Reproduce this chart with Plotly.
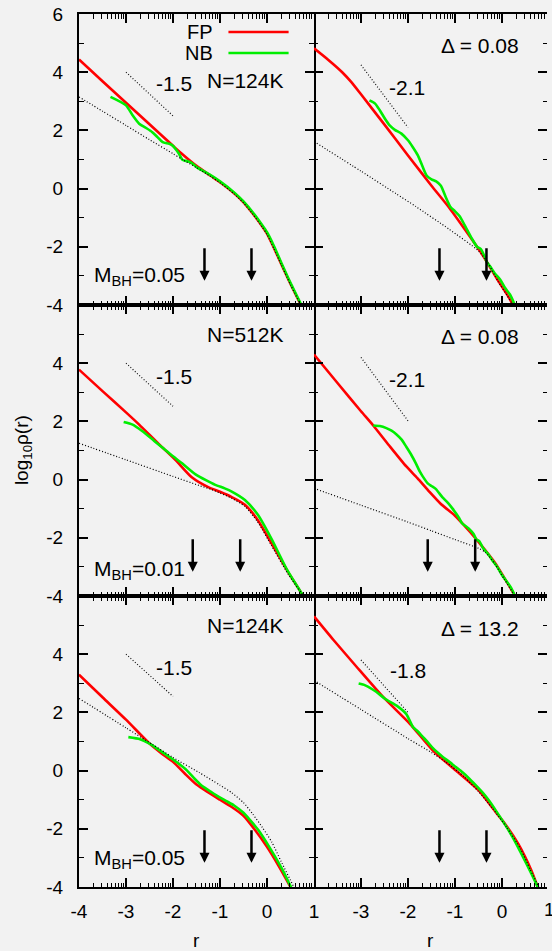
import numpy as np
import plotly.graph_objects as go

# ---------------- data ----------------
# Top-left panel: N=124K, M_BH=0.05
TL_FP_X = [-4, -3.5, -3, -2.5, -2, -1.8, -1.5, -1.2, -1, -0.7, -0.5, -0.3, -0.1, 0, 0.15, 0.3, 0.5, 0.72, 0.8]
TL_FP_Y = [4.44, 3.69, 2.95, 2.21, 1.47, 1.18, 0.78, 0.44, 0.22, -0.16, -0.47, -0.86, -1.3, -1.55, -2.05, -2.58, -3.28, -4.0, -4.3]
TL_NB_X = [-3.33, -3.0, -2.86, -2.72, -2.58, -2.44, -2.33, -2.22, -2.08, -2.01, -1.87, -1.8, -1.63, -1.49, -1.2, -1, -0.7, -0.5, -0.3, -0.1, 0, 0.15, 0.3, 0.5, 0.73, 0.8]
TL_NB_Y = [3.15, 2.86, 2.52, 2.23, 2.09, 1.94, 1.77, 1.6, 1.54, 1.48, 1.19, 0.99, 0.91, 0.73, 0.46, 0.25, -0.13, -0.44, -0.82, -1.26, -1.5, -1.98, -2.53, -3.24, -4.0, -4.3]
TL_IN_X = [-4, -3.5, -3, -2.5, -2, -1.8, -1.5, -1.2, -1, -0.7, -0.5, -0.3, -0.1, 0, 0.15, 0.3, 0.5, 0.72, 0.8]
TL_IN_Y = [3.15, 2.66, 2.17, 1.68, 1.2, 1.0, 0.72, 0.42, 0.2, -0.18, -0.49, -0.88, -1.32, -1.57, -2.07, -2.6, -3.3, -4.0, -4.3]
TL_SL_X = [-3, -2]
TL_SL_Y = [4.0, 2.5]

# Top-right panel: Delta = 0.08
TR_FP_X = [-4, -3.7, -3.4, -3.2, -3, -2.5, -2, -1.5, -1.13, -0.8, -0.43, -0.08, 0.1, 0.24, 0.35]
TR_FP_Y = [4.82, 4.43, 4.0, 3.65, 3.24, 2.2, 1.14, 0.10, -0.64, -1.38, -2.24, -3.17, -3.62, -4.0, -4.3]
TR_NB_X = [-2.82, -2.7, -2.6, -2.49, -2.39, -2.28, -2.14, -2.0, -1.9, -1.79, -1.69, -1.6, -1.5, -1.4, -1.3, -1.2, -1.1, -1.0, -0.9, -0.78, -0.64, -0.53, -0.45, -0.38, -0.33, -0.25, -0.15, -0.04, 0.06, 0.17, 0.27, 0.33]
TR_NB_Y = [3.03, 2.92, 2.69, 2.40, 2.17, 2.02, 1.89, 1.66, 1.43, 1.14, 0.76, 0.44, 0.32, 0.25, 0.10, -0.28, -0.62, -0.78, -0.95, -1.30, -1.72, -2.00, -2.08, -2.30, -2.50, -2.68, -2.92, -3.12, -3.40, -3.64, -4.0, -4.3]
TR_IN_X = [-4, -3, -2.25, -1.83, -1.13, -0.5, -0.3, -0.08, 0.1, 0.24, 0.35]
TR_IN_Y = [1.62, 0.6, -0.18, -0.62, -1.39, -2.14, -2.55, -3.2, -3.65, -4.02, -4.3]
TR_SL_X = [-3, -2]
TR_SL_Y = [4.25, 2.1]

# Middle-left panel: N=512K, M_BH=0.01
ML_FP_X = [-4, -3.5, -3, -2.72, -2.3, -1.95, -1.6, -1.25, -1.0, -0.75, -0.47, -0.2, 0.1, 0.45, 0.78, 0.85]
ML_FP_Y = [3.78, 3.04, 2.31, 1.89, 1.22, 0.68, 0.08, -0.26, -0.42, -0.6, -0.86, -1.38, -2.2, -3.18, -4.03, -4.3]
ML_NB_X = [-3.05, -2.86, -2.65, -2.4, -2.2, -2.0, -1.8, -1.52, -1.3, -1.1, -0.9, -0.75, -0.47, -0.19, 0.09, 0.44, 0.78, 0.85]
ML_NB_Y = [1.98, 1.89, 1.66, 1.33, 1.07, 0.8, 0.55, 0.18, -0.02, -0.18, -0.3, -0.41, -0.70, -1.22, -2.02, -3.14, -4.03, -4.3]
ML_IN_X = [-4, -3, -2, -1.45, -1.2, -1.0, -0.75, -0.47, -0.2, 0.1, 0.45, 0.8, 0.9]
ML_IN_Y = [1.25, 0.68, 0.11, -0.2, -0.33, -0.46, -0.64, -0.92, -1.45, -2.28, -3.25, -4.05, -4.3]
ML_SL_X = [-3, -2]
ML_SL_Y = [4.0, 2.52]

# Middle-right panel: Delta = 0.08
MR_FP_X = [-4, -3.5, -3, -2.74, -2.4, -2.04, -1.8, -1.55, -1.3, -1.0, -0.8, -0.57, -0.35, -0.15, 0.05, 0.27, 0.35]
MR_FP_Y = [4.3, 3.32, 2.35, 1.86, 1.17, 0.46, 0.05, -0.41, -0.84, -1.24, -1.58, -2.0, -2.44, -2.86, -3.38, -3.98, -4.3]
MR_NB_X = [-2.74, -2.6, -2.46, -2.35, -2.25, -2.14, -2.04, -1.94, -1.83, -1.75, -1.69, -1.58, -1.5, -1.41, -1.27, -1.15, -1.06, -0.92, -0.85, -0.71, -0.6, -0.55, -0.48, -0.4, -0.3, -0.21, -0.1, 0.0, 0.1, 0.2, 0.27, 0.35]
MR_NB_Y = [1.86, 1.84, 1.77, 1.68, 1.56, 1.38, 1.14, 0.88, 0.55, 0.28, 0.12, -0.13, -0.22, -0.32, -0.6, -0.8, -0.98, -1.3, -1.5, -1.68, -1.88, -2.05, -2.12, -2.36, -2.55, -2.76, -3.0, -3.28, -3.5, -3.74, -3.98, -4.3]
MR_IN_X = [-4, -3, -2, -1.5, -1, -0.5, -0.35, -0.15, 0.05, 0.27, 0.35]
MR_IN_Y = [-0.3, -0.88, -1.46, -1.76, -2.06, -2.36, -2.5, -2.9, -3.42, -4.0, -4.3]
MR_SL_X = [-3, -2]
MR_SL_Y = [4.2, 2.02]

# Bottom-left panel: N=124K, M_BH=0.05
BL_FP_X = [-4, -3.5, -3, -2.5, -2.25, -2, -1.75, -1.5, -1.25, -1.0, -0.75, -0.5, -0.25, 0, 0.25, 0.49, 0.6]
BL_FP_Y = [3.3, 2.52, 1.75, 0.93, 0.6, 0.3, -0.1, -0.48, -0.75, -1.0, -1.25, -1.55, -2.05, -2.62, -3.28, -3.97, -4.3]
BL_NB_X = [-2.95, -2.7, -2.49, -2.25, -2.0, -1.89, -1.7, -1.54, -1.4, -1.2, -1.05, -0.85, -0.7, -0.5, -0.35, -0.18, 0.07, 0.32, 0.5, 0.6]
BL_NB_Y = [1.15, 1.08, 0.92, 0.66, 0.38, 0.25, 0.0, -0.28, -0.5, -0.72, -0.88, -1.06, -1.2, -1.45, -1.72, -2.05, -2.68, -3.38, -3.97, -4.3]
BL_IN_X = [-4, -3, -2.44, -2, -1.45, -1, -0.75, -0.5, -0.3, -0.1, 0.1, 0.3, 0.56, 0.65]
BL_IN_Y = [2.48, 1.47, 0.9, 0.45, -0.06, -0.5, -0.76, -1.1, -1.5, -1.95, -2.45, -3.12, -3.97, -4.3]
BL_SL_X = [-3, -2]
BL_SL_Y = [4.0, 2.55]

# Bottom-right panel: Delta = 13.2
BR_FP_X = [-4, -3.58, -3.09, -2.53, -1.96, -1.47, -0.98, -0.49, -0.21, 0.07, 0.35, 0.63, 0.76, 0.85]
BR_FP_Y = [5.3, 4.48, 3.56, 2.53, 1.61, 0.69, 0.0, -0.69, -1.27, -1.84, -2.53, -3.45, -4.0, -4.4]
BR_NB_X = [-3.05, -2.91, -2.67, -2.49, -2.25, -2.04, -1.89, -1.8, -1.68, -1.58, -1.47, -1.37, -1.26, -1.12, -0.98, -0.84, -0.7, -0.56, -0.42, -0.28, -0.14, 0.21, 0.49, 0.76, 0.85]
BR_NB_Y = [2.99, 2.93, 2.70, 2.47, 2.24, 1.95, 1.49, 1.36, 1.15, 0.98, 0.77, 0.62, 0.47, 0.3, 0.12, -0.06, -0.27, -0.5, -0.74, -1.02, -1.35, -2.24, -3.10, -4.0, -4.4]
BR_IN_X = [-4, -3, -2, -1.5, -1.2, -0.8, -0.5, -0.2, 0.1, 0.4, 0.6, 0.78, 0.88]
BR_IN_Y = [3.1, 2.1, 1.1, 0.62, 0.3, -0.22, -0.72, -1.3, -1.95, -2.7, -3.4, -4.0, -4.4]
BR_SL_X = [-3, -2]
BR_SL_Y = [3.8, 2.0]

# radii marked by arrows (log10 r)
ARROW_X_M005 = [-1.33, -0.33]
ARROW_X_M001 = [-1.58, -0.57]

X_TICKS = [-4, -3, -2, -1, 0, 1]
Y_TICKS = [-4, -2, 0, 2, 4, 6]
Y_MINOR = [-3, -1, 1, 3, 5]

# ---------------- figure ----------------
FONT = "Liberation Sans, Arial, Helvetica, sans-serif"
RED = "#ff0000"
GREEN = "#00ee00"
BG = "#f2f2f2"

W, H = 552, 951
ML_, MT_, MB_ = 79, 14, 64
PW = W - ML_
PH = H - MT_ - MB_
XSPLIT = 237.5 / PW
RIGHT_MAX = -4 + (PW - 237.5) / 47.5

fig = go.Figure()

panels = {
    'TL': ('x', 'y', TL_FP_X, TL_FP_Y, TL_NB_X, TL_NB_Y, TL_IN_X, TL_IN_Y, TL_SL_X, TL_SL_Y),
    'TR': ('x2', 'y2', TR_FP_X, TR_FP_Y, TR_NB_X, TR_NB_Y, TR_IN_X, TR_IN_Y, TR_SL_X, TR_SL_Y),
    'ML': ('x3', 'y3', ML_FP_X, ML_FP_Y, ML_NB_X, ML_NB_Y, ML_IN_X, ML_IN_Y, ML_SL_X, ML_SL_Y),
    'MR': ('x4', 'y4', MR_FP_X, MR_FP_Y, MR_NB_X, MR_NB_Y, MR_IN_X, MR_IN_Y, MR_SL_X, MR_SL_Y),
    'BL': ('x5', 'y5', BL_FP_X, BL_FP_Y, BL_NB_X, BL_NB_Y, BL_IN_X, BL_IN_Y, BL_SL_X, BL_SL_Y),
    'BR': ('x6', 'y6', BR_FP_X, BR_FP_Y, BR_NB_X, BR_NB_Y, BR_IN_X, BR_IN_Y, BR_SL_X, BR_SL_Y),
}

for key, (xa, ya, fx, fy, nx, ny, ix, iy, sx, sy) in panels.items():
    common = dict(xaxis=xa, yaxis=ya, mode='lines', showlegend=False, hoverinfo='skip')
    fig.add_trace(go.Scatter(x=fx, y=fy, line=dict(color=RED, width=2.6, shape='spline', smoothing=0.6), **common))
    fig.add_trace(go.Scatter(x=nx, y=ny, line=dict(color=GREEN, width=2.6, shape='spline', smoothing=0.6), **common))
    fig.add_trace(go.Scatter(x=ix, y=iy, line=dict(color='black', width=1.2, dash='1px,2px', shape='spline', smoothing=0.6), **common))
    fig.add_trace(go.Scatter(x=sx, y=sy, line=dict(color='#111111', width=1.2, dash='1px,2px'), **common))

minor_x = [k + np.log10(m) for k in range(-4, 1) for m in range(2, 10)]

def xaxis_cfg(col, row):
    rng = [-4, 1] if col == 0 else [-4, RIGHT_MAX]
    dom = [0, XSPLIT] if col == 0 else [XSPLIT, 1]
    if row == 2:
        if col == 0:
            ticktext = [str(v) for v in X_TICKS]
        else:
            ticktext = [''] + [str(v) for v in X_TICKS[1:]]
        show = True
    else:
        ticktext = [''] * len(X_TICKS)
        show = False
    return dict(domain=dom, range=rng, tickmode='array', tickvals=X_TICKS, ticktext=ticktext,
                showticklabels=show, ticks='inside', ticklen=9, tickwidth=1.5, tickcolor='black',
                showline=True, linewidth=2, linecolor='black', mirror='ticks',
                showgrid=False, zeroline=False, ticklabelstandoff=6,
                tickfont=dict(family=FONT, size=19, color='black'),
                minor=dict(tickmode='array', tickvals=minor_x, ticks='inside', ticklen=4.5,
                           tickwidth=1, tickcolor='black', showgrid=False))

def yaxis_cfg(col, row):
    doms = [[2 / 3, 1], [1 / 3, 2 / 3], [0, 1 / 3]]
    if row == 0:
        ticktext = [str(v) for v in Y_TICKS]
    else:
        ticktext = [str(v) for v in Y_TICKS[:-1]] + ['']
    return dict(domain=doms[row], range=[-4, 6], tickmode='array', tickvals=Y_TICKS, ticktext=ticktext,
                showticklabels=(col == 0), ticks='inside', ticklen=9, tickwidth=1.5, tickcolor='black',
                showline=(col == 0), linewidth=2, linecolor='black', mirror='ticks',
                showgrid=False, zeroline=False, ticklabelstandoff=10,
                tickfont=dict(family=FONT, size=19, color='black'),
                minor=dict(tickmode='array', tickvals=Y_MINOR, ticks='inside', ticklen=4.5,
                           tickwidth=1, tickcolor='black', showgrid=False))

layout = dict(width=W, height=H, margin=dict(l=ML_, r=0, t=MT_, b=MB_),
              paper_bgcolor=BG, plot_bgcolor=BG, showlegend=False)
idx = 1
for row in range(3):
    for col in range(2):
        sfx = '' if idx == 1 else str(idx)
        xc = xaxis_cfg(col, row)
        yc = yaxis_cfg(col, row)
        xc['anchor'] = 'y' + sfx
        yc['anchor'] = 'x' + sfx
        layout['xaxis' + sfx] = xc
        layout['yaxis' + sfx] = yc
        idx += 1
fig.update_layout(**layout)

ann = []
def txt(xa, ya, x, y, text, xanchor='center', size=21):
    ann.append(dict(xref=xa, yref=ya, x=x, y=y, text=text, showarrow=False, xanchor=xanchor,
                    yanchor='middle', font=dict(family=FONT, size=size, color='black')))

# legend (top-left panel)
txt('x', 'y', -1.1, 5.38, 'FP', xanchor='right', size=20)
txt('x', 'y', -1.1, 4.66, 'NB', xanchor='right', size=20)
shapes = [
    dict(type='line', xref='x', yref='y', x0=-0.82, x1=0.46, y0=5.38, y1=5.38, line=dict(color=RED, width=2.6)),
    dict(type='line', xref='x', yref='y', x0=-0.82, x1=0.46, y0=4.66, y1=4.66, line=dict(color=GREEN, width=2.6)),
]

txt('x', 'y', -0.46, 3.72, 'N=124K')
txt('x', 'y', -1.98, 3.6, '-1.5')
txt('x', 'y', -3.72, -3.02, 'M<sub>BH</sub>=0.05', xanchor='left')

txt('x2', 'y2', -0.46, 4.93, 'Δ = 0.08')
txt('x2', 'y2', -2.02, 3.49, '-2.1')

txt('x3', 'y3', -0.47, 5.0, 'N=512K')
txt('x3', 'y3', -1.98, 3.55, '-1.5')
txt('x3', 'y3', -3.72, -3.1, 'M<sub>BH</sub>=0.01', xanchor='left')

txt('x4', 'y4', -0.46, 4.93, 'Δ = 0.08')
txt('x4', 'y4', -2.02, 3.44, '-2.1')

txt('x5', 'y5', -0.46, 5.0, 'N=124K')
txt('x5', 'y5', -1.98, 3.56, '-1.5')
txt('x5', 'y5', -3.72, -3.05, 'M<sub>BH</sub>=0.05', xanchor='left')

txt('x6', 'y6', -0.46, 4.89, 'Δ = 13.2')
txt('x6', 'y6', -2.0, 3.45, '-1.8')

# arrows
for (xa, ya, xs) in [('x', 'y', ARROW_X_M005), ('x2', 'y2', ARROW_X_M005),
                     ('x3', 'y3', ARROW_X_M001), ('x4', 'y4', ARROW_X_M001),
                     ('x5', 'y5', ARROW_X_M005), ('x6', 'y6', ARROW_X_M005)]:
    for xv in xs:
        ann.append(dict(xref=xa, yref=ya, axref=xa, ayref=ya, x=xv, y=-3.17, ax=xv, ay=-2.0,
                        text='', showarrow=True, arrowhead=2, arrowsize=0.8, arrowwidth=2.5,
                        arrowcolor='black', standoff=0, startstandoff=0))

# axis titles
ann.append(dict(xref='paper', yref='paper', x=-57 / PW, y=0.5, text='log<sub>10</sub>ρ(r)', textangle=-90,
                showarrow=False, xanchor='center', yanchor='middle', font=dict(family=FONT, size=19, color='black')))
for xd in ['x5 domain', 'x6 domain']:
    ann.append(dict(xref=xd, yref='paper', x=0.5, y=-53 / PH, text='r',
                    showarrow=False, xanchor='center', yanchor='middle', font=dict(family=FONT, size=19, color='black')))
# partially visible "1" of the right panel at the page edge
ann.append(dict(xref='paper', yref='paper', x=(555 - ML_) / PW, y=-23 / PH, text='1',
                showarrow=False, xanchor='center', yanchor='middle', font=dict(family=FONT, size=19, color='black')))

fig.update_layout(annotations=ann, shapes=shapes)
fig.write_html("out.html")
